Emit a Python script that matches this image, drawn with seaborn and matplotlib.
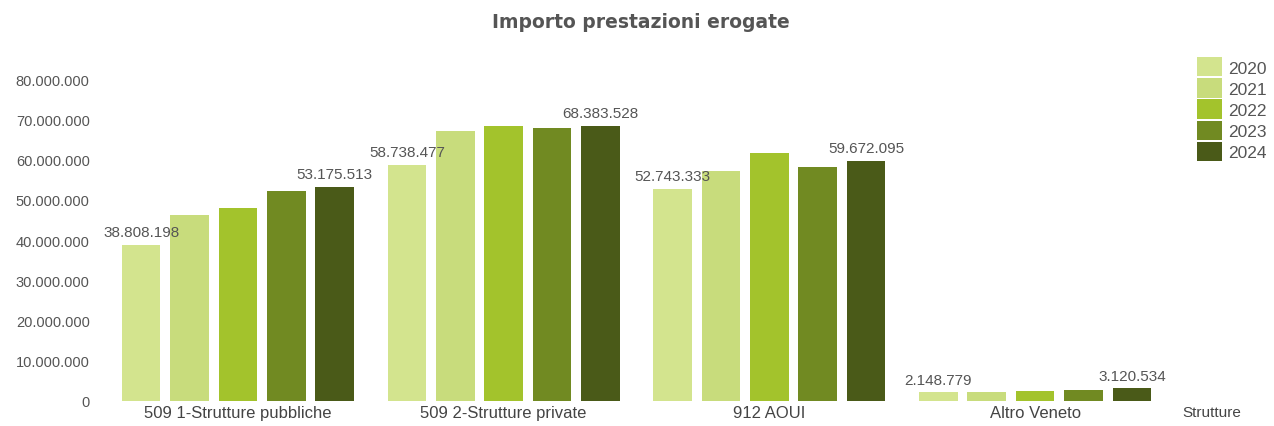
import pandas as pd
import matplotlib
matplotlib.use('Agg')
import matplotlib.pyplot as plt
from matplotlib.ticker import FuncFormatter
import seaborn as sns

categories = ['509 1-Strutture pubbliche', '509 2-Strutture private', '912 AOUI', 'Altro Veneto']
years = ['2020', '2021', '2022', '2023', '2024']
val_2020 = [38808198, 58738477, 52743333, 2148779]
val_2021 = [46300000, 67000000, 57100000, 2300000]
val_2022 = [47900000, 68300000, 61500000, 2600000]
val_2023 = [52100000, 67900000, 58200000, 2800000]
val_2024 = [53175513, 68383528, 59672095, 3120534]
colors = ['#d3e48e', '#c8dc7c', '#a3c32c', '#718a22', '#4a5a18']

series = [val_2020, val_2021, val_2022, val_2023, val_2024]
rows = []
for year, vals in zip(years, series):
    for cat, v in zip(categories, vals):
        rows.append({'Strutture': cat, 'Anno': year, 'Importo': v})
df = pd.DataFrame(rows)

sns.set_theme(style='white')
plt.rcParams['font.family'] = ['Liberation Sans', 'DejaVu Sans']
txt = '#555555'


def fmt_it(v, pos=None):
    return f"{int(round(v)):,}".replace(',', '.')


fig = plt.figure(figsize=(12.74, 4.27), dpi=100)
ax = fig.add_axes([105 / 1274, 1 - 402 / 427, 1063 / 1274, 322 / 427])

sns.barplot(data=df, x='Strutture', y='Importo', hue='Anno', order=categories,
            hue_order=years, palette=colors, saturation=1, width=0.91, gap=0.2,
            linewidth=0, errorbar=None, ax=ax)

ax.set_ylim(0, 80000000)
ax.set_xlim(-0.5, len(categories) - 0.5)
ax.set_yticks(range(0, 80000001, 10000000))
ax.yaxis.set_major_formatter(FuncFormatter(fmt_it))
ax.tick_params(axis='y', length=0, pad=11, labelsize=10.5, labelcolor=txt)
ax.tick_params(axis='x', length=0, pad=3, labelsize=12, labelcolor='#444444')
sns.despine(ax=ax, left=True, bottom=True)
ax.set_ylabel('')

ax.set_xlabel('Strutture', fontsize=11, color='#444444')
ax.xaxis.set_label_coords(1.041, -0.034)
ax.xaxis.label.set_verticalalignment('center')

# etichette solo per primo e ultimo anno
for idx in (0, len(years) - 1):
    cont = ax.containers[idx]
    ax.bar_label(cont, labels=[fmt_it(v) for v in series[idx]], padding=4,
                 fontsize=11, color=txt)

handles, labels = ax.get_legend_handles_labels()
ax.legend(handles, labels, loc='upper left', bbox_to_anchor=(1197 / 1274, 1 - 58 / 427),
          bbox_transform=fig.transFigure, frameon=False, fontsize=12.5,
          handlelength=1.45, handleheight=1.35, labelspacing=0.1,
          handletextpad=0.35, borderpad=0, borderaxespad=0, labelcolor=txt)

fig.text(641 / 1274, 1 - 22 / 427, 'Importo prestazioni erogate', ha='center', va='center',
         fontsize=13.5, fontweight='bold', color=txt, family='DejaVu Sans')

fig.savefig('out.png', dpi=100, facecolor='white')
